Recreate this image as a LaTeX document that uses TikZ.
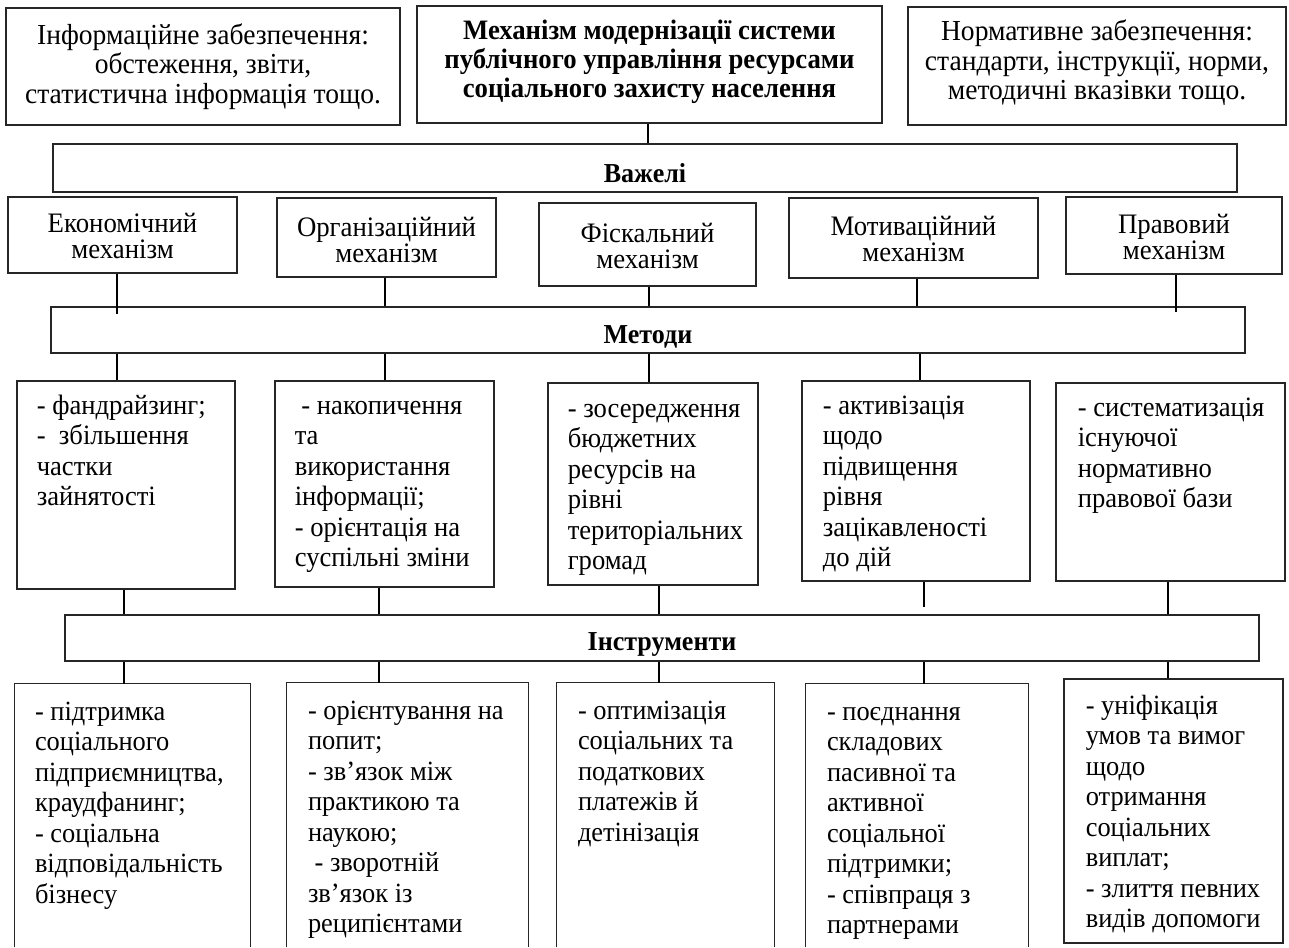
\documentclass[tikz,border=0pt]{standalone}
\usepackage{fontspec}
\setmainfont[FakeStretch=0.95]{Liberation Serif}
\usetikzlibrary{fit}
\begin{document}
\begin{tikzpicture}[x=0.5pt,y=-0.5pt,
  box/.style={draw=black!85, line width=0.6pt, inner sep=0pt},
  fr/.style={inner sep=0pt},
  side/.style={draw=black!85, line width=0.6pt},
  ctop/.style={inner sep=0pt, align=center, font=\fontsize{14.5}{14.75}\selectfont},
  mech/.style={inner sep=0pt, align=center, font=\fontsize{14.1}{13}\selectfont},
  hd/.style={inner sep=0pt, font=\fontsize{13.7}{14}\selectfont\bfseries},
  tx/.style={inner sep=0pt, align=left, anchor=north west, font=\fontsize{14}{15.25}\selectfont},
  tb/.style={tx, font=\fontsize{13.9}{15.25}\selectfont},
  cn/.style={line width=1pt, draw=black}]
\useasboundingbox (0,0) rectangle (1289,947);

% column coordinates for connectors
\coordinate (a0) at (648,0);
\coordinate (a1) at (117,0);
\coordinate (a2) at (385,0);
\coordinate (a3) at (649,0);
\coordinate (a4) at (917,0);
\coordinate (a5) at (1176,0);
\coordinate (b4) at (920,0);
\coordinate (c1) at (124,0);
\coordinate (c2) at (379,0);
\coordinate (c3) at (659,0);
\coordinate (c4) at (924,0);
\coordinate (c5) at (1168,0);

% top row
\node[box, fit={(6,8)(400,125)}] (info) {};
\node[ctop] at (info.center) {Інформаційне забезпечення:\\обстеження, звіти,\\статистична інформація тощо.};
\node[box, fit={(417,6)(882,123)}] (main) {};
\node[ctop, font=\fontsize{14.06}{14.5}\selectfont\bfseries] at ([yshift=1.25pt]main.center) {Механізм модернізації системи\\публічного управління ресурсами\\соціального захисту населення};
\node[box, fit={(908,7)(1286,125)}] (norm) {};
\node[ctop] at ([yshift=1.5pt]norm.center) {Нормативне забезпечення:\\стандарти, інструкції, норми,\\методичні вказівки тощо.};

% levers
\node[box, fit={(53,144)(1237,192)}] (vaz) {};
\node[hd] at ([yshift=-2.5pt]vaz.center) {Важелі};

% mechanisms
\node[box, fit={(8,197)(237,273)}] (econ) {};
\node[mech] at ([yshift=-0.5pt]econ.center) {Економічний\\механізм};
\node[box, fit={(277,198)(496,277)}] (org) {};
\node[mech] at ([yshift=-1pt]org.center) {Організаційний\\механізм};
\node[box, fit={(539,203)(756,286)}] (fisc) {};
\node[mech] at ([yshift=-0.5pt]fisc.center) {Фіскальний\\механізм};
\node[box, fit={(789,198)(1038,278)}] (motiv) {};
\node[mech] at ([yshift=-0.5pt]motiv.center) {Мотиваційний\\механізм};
\node[box, fit={(1066,197)(1282,274)}] (legal) {};
\node[mech] at ([yshift=-0.5pt]legal.center) {Правовий\\механізм};

% methods
\node[box, fit={(51,307)(1245,353)}] (met) {};
\node[hd] at ([yshift=-3.5pt]met.center) {Методи};

\node[box, fit={(17,381)(235,589)}] (m1) {};
\node[tx] at ([shift={(20,12)}]m1.north west) {\strut- фандрайзинг;\\-\ \ збільшення\\частки\\зайнятості};
\node[box, fit={(275,381)(494,587)}] (m2) {};
\node[tx] at ([shift={(20,12)}]m2.north west) {\strut\ - накопичення\\та\\використання\\інформації;\\- орієнтація на\\суспільні зміни};
\node[box, fit={(548,383)(758,585)}] (m3) {};
\node[tx] at ([shift={(20,13)}]m3.north west) {\strut- зосередження\\бюджетних\\ресурсів на\\рівні\\територіальних\\громад};
\node[box, fit={(802,381)(1030,581)}] (m4) {};
\node[tx] at ([shift={(21,12)}]m4.north west) {\strut- активізація\\щодо\\підвищення\\рівня\\зацікавленості\\до дій};
\node[box, fit={(1056,383)(1285,581)}] (m5) {};
\node[tx] at ([shift={(22,12)}]m5.north west) {\strut- систематизація\\існуючої\\нормативно\\правової бази};

% instruments
\node[box, fit={(65,615)(1259,661)}] (ins) {};
\node[hd] at ([yshift=-3pt]ins.center) {Інструменти};

\node[fr, fit={(15,684)(250,947)}] (i1) {};
\draw[side] (i1.south west) -- (i1.north west) -- (i1.north east) -- (i1.south east);
\node[tb] at ([shift={(20,15)}]i1.north west) {\strut- підтримка\\соціального\\підприємництва,\\краудфанинг;\\- соціальна\\відповідальність\\бізнесу};
\node[fr, fit={(287,683)(528,947)}] (i2) {};
\draw[side] (i2.south west) -- (i2.north west) -- (i2.north east) -- (i2.south east);
\node[tb] at ([shift={(21,15)}]i2.north west) {\strut- орієнтування на\\попит;\\- зв’язок між\\практикою та\\наукою;\\\ - зворотній\\зв’язок із\\реципієнтами};
\node[fr, fit={(557,683)(774,947)}] (i3) {};
\draw[side] (i3.south west) -- (i3.north west) -- (i3.north east) -- (i3.south east);
\node[tb] at ([shift={(21,15)}]i3.north west) {\strut- оптимізація\\соціальних та\\податкових\\платежів й\\детінізація};
\node[fr, fit={(806,684)(1028,947)}] (i4) {};
\draw[side] (i4.south west) -- (i4.north west) -- (i4.north east) -- (i4.south east);
\node[tb] at ([shift={(21,15)}]i4.north west) {\strut- поєднання\\складових\\пасивної та\\активної\\соціальної\\підтримки;\\- співпраця з\\партнерами};
\node[box, fit={(1064,679)(1283,943)}] (i5) {};
\node[tb] at ([shift={(22,14)}]i5.north west) {\strut- уніфікація\\умов та вимог\\щодо\\отримання\\соціальних\\виплат;\\- злиття певних\\видів допомоги};

% connectors
\draw[cn] (main.south -| a0) -- (vaz.north -| a0);
\draw[cn] (econ.south -| a1) -- ([yshift=-4pt]met.north -| a1);
\draw[cn] (org.south -| a2) -- (met.north -| a2);
\draw[cn] (fisc.south -| a3) -- (met.north -| a3);
\draw[cn] (motiv.south -| a4) -- (met.north -| a4);
\draw[cn] (legal.south -| a5) -- ([yshift=-3pt]met.north -| a5);
\draw[cn] (met.south -| a1) -- (m1.north -| a1);
\draw[cn] (met.south -| a2) -- (m2.north -| a2);
\draw[cn] (met.south -| a3) -- (m3.north -| a3);
\draw[cn] (met.south -| b4) -- (m4.north -| b4);
\draw[cn] (m1.south -| c1) -- (ins.north -| c1);
\draw[cn] (m2.south -| c2) -- (ins.north -| c2);
\draw[cn] (m3.south -| c3) -- (ins.north -| c3);
\draw[cn] (m4.south -| c4) -- ([yshift=3.5pt]ins.north -| c4);
\draw[cn] (m5.south -| c5) -- (ins.north -| c5);
\draw[cn] (ins.south -| c1) -- (i1.north -| c1);
\draw[cn] (ins.south -| c2) -- (i2.north -| c2);
\draw[cn] (ins.south -| c3) -- (i3.north -| c3);
\draw[cn] (ins.south -| c4) -- (i4.north -| c4);
\draw[cn] (ins.south -| c5) -- (i5.north -| c5);
\end{tikzpicture}
\end{document}
